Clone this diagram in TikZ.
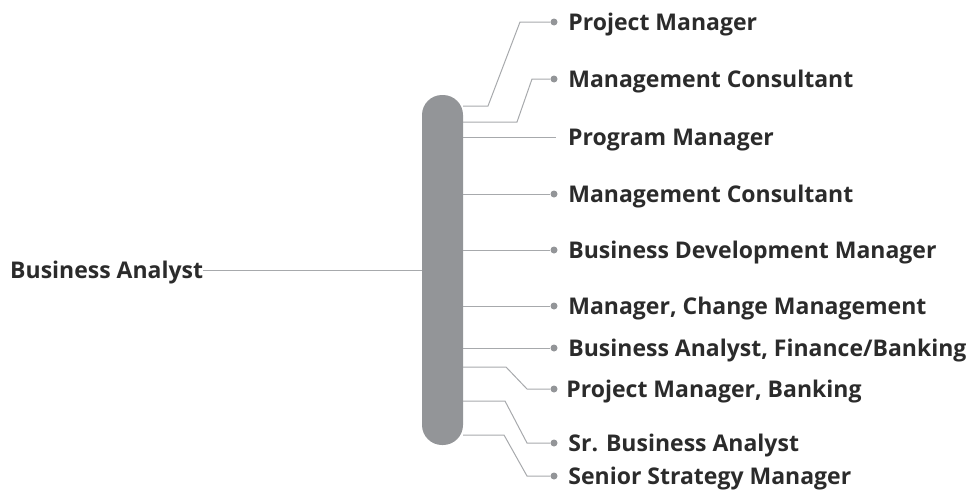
\documentclass[tikz,border=0pt]{standalone}
\usepackage{fontspec}
\setmainfont{Open Sans}
\usetikzlibrary{positioning}
\definecolor{bargray}{HTML}{939598}
\definecolor{linegray}{HTML}{A7A9AC}
\definecolor{textdark}{HTML}{2B2B2B}
\tikzset{
  role/.style={font=\bfseries\fontsize{23}{27}\selectfont, text=textdark, anchor=west,
    inner sep=0pt, text height=16.4pt, text depth=0pt},
  dot/.style={circle, fill=bargray, inner sep=0pt, minimum size=7pt},
  link/.style={draw=linegray, line width=1pt},
}
\begin{document}
\begin{tikzpicture}[x=1pt,y=-1pt]
  \useasboundingbox (0,0) rectangle (969,490);
  \fill[bargray, rounded corners=20pt] (422,95) rectangle (463,445);
  \node[role] (ba) at (10,270) {Business Analyst};
  \coordinate (bin) at (422,270);
  \draw[link] (ba) -- (bin);
  \draw
    (463,106) coordinate (s1)
    (463,122) coordinate (s2)
    (463,137) coordinate (s3)
    (463,194) coordinate (s4)
    (463,250) coordinate (s5)
    (463,306) coordinate (s6)
    (463,348) coordinate (s7)
    (463,367) coordinate (s8)
    (463,401) coordinate (s9)
    (463,435) coordinate (s10);
  \draw
    (554,22) node[dot] (d1){}
    (554,79) node[dot] (d2){}
    (556,137) coordinate (d3)
    (554,194) node[dot] (d4){}
    (554,250) node[dot] (d5){}
    (554,306) node[dot] (d6){}
    (554,348) node[dot] (d7){}
    (554,389) node[dot] (d8){}
    (554,443) node[dot] (d9){}
    (554,476) node[dot] (d10){};
  \node[role, right=10.5pt of d1] (r1) {Project Manager};
  \node[role, right=10.5pt of d2] (r2) {Management Consultant};
  \node[role, right=12pt of d3] (r3) {Program Manager};
  \node[role, right=10.5pt of d4] (r4) {Management Consultant};
  \node[role, right=10.5pt of d5] (r5) {Business Development Manager};
  \node[role, right=10.5pt of d6] (r6) {Manager, Change Management};
  \node[role, right=10.5pt of d7] (r7) {Business Analyst, Finance/Banking};
  \node[role, right=8.5pt of d8] (r8) {Project Manager, Banking};
  \node[role, right=10.5pt of d9] (r9) {Sr. Business Analyst};
  \node[role, right=10.5pt of d10] (r10) {Senior Strategy Manager};
  \begin{scope}[link]
    \draw (s1) -- (488,106) -- (520,22) -- (d1);
    \draw (s2) -- (517,122) -- (532,79) -- (d2);
    \draw (s3) -- (d3);
    \draw (s4) -- (d4);
    \draw (s5) -- (d5);
    \draw (s6) -- (d6);
    \draw (s7) -- (d7);
    \draw (s8) -- (506,367) -- (527,389) -- (d8);
    \draw (s9) -- (505,401) -- (527,443) -- (d9);
    \draw (s10) -- (504,435) -- (527,476) -- (d10);
  \end{scope}
\end{tikzpicture}
\end{document}
